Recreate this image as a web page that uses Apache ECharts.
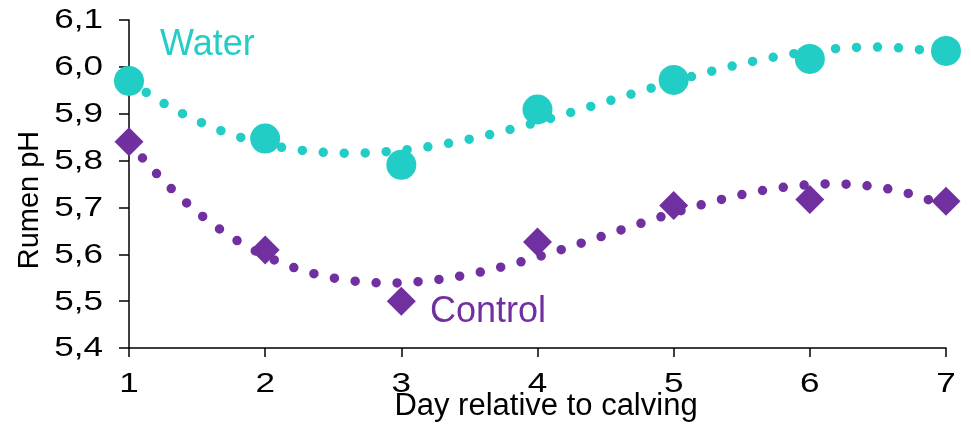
<!DOCTYPE html>
<html>
<head>
<meta charset="utf-8">
<script src="https://cdn.jsdelivr.net/npm/echarts@6/dist/echarts.min.js"></script>
<style>
  html, body { margin: 0; padding: 0; background: #fff; }
  #chart { width: 971px; height: 431px; }
</style>
</head>
<body>
<div id="chart"></div>
<script>
// Rumen pH by day relative to calving, two treatment groups
const days = [1, 2, 3, 4, 5, 6, 7];
const waterPH = [5.970, 5.847, 5.791, 5.909, 5.972, 6.017, 6.034];
const controlPH = [5.840, 5.609, 5.500, 5.626, 5.704, 5.717, 5.713];
const yTicks = [5.4, 5.5, 5.6, 5.7, 5.8, 5.9, 6.0, 6.1];
const xTicks = [1, 2, 3, 4, 5, 6, 7];

const TEAL = '#22CDC5';
const PURPLE = '#7030A0';
const FONT = '"Liberation Sans", Arial, sans-serif';
const TICK_FONT = '27px ' + FONT;
const TICK_STRETCH = 1.3;   // wide tick numerals

// Least-squares polynomial fit (order 3 trendline)
function polyFit(xs, ys, order) {
  const n = order + 1;
  const A = [];
  for (let i = 0; i < n; i++) A.push(new Array(n + 1).fill(0));
  for (let k = 0; k < xs.length; k++) {
    for (let i = 0; i < n; i++) {
      for (let j = 0; j < n; j++) A[i][j] += Math.pow(xs[k], i + j);
      A[i][n] += ys[k] * Math.pow(xs[k], i);
    }
  }
  for (let i = 0; i < n; i++) {
    let p = i;
    for (let r = i + 1; r < n; r++) if (Math.abs(A[r][i]) > Math.abs(A[p][i])) p = r;
    [A[i], A[p]] = [A[p], A[i]];
    for (let r = 0; r < n; r++) {
      if (r === i) continue;
      const f = A[r][i] / A[i][i];
      for (let c = i; c <= n; c++) A[r][c] -= f * A[i][c];
    }
  }
  return A.map((row, i) => row[n] / row[i]);
}
function trendPoints(xs, ys) {
  const c = polyFit(xs, ys, 3);
  const pts = [];
  const x0 = xs[0], x1 = xs[xs.length - 1];
  const steps = 300;
  for (let s = 0; s <= steps; s++) {
    const x = x0 + (x1 - x0) * s / steps;
    pts.push([x, c[0] + c[1] * x + c[2] * x * x + c[3] * x * x * x]);
  }
  return pts;
}

const chart = echarts.init(document.getElementById('chart'), null, { renderer: 'canvas' });

const dotted = (color) => ({
  color: color,
  width: 9.5,
  type: [0, 21],
  cap: 'round'
});

chart.setOption({
  animation: false,
  backgroundColor: '#fff',
  grid: { left: 129, right: 25, top: 20, bottom: 83, containLabel: false },
  xAxis: {
    type: 'value',
    min: xTicks[0], max: xTicks[xTicks.length - 1], interval: 1,
    axisLine: { lineStyle: { color: '#000', width: 1.5 } },
    axisTick: { show: true, length: 9, lineStyle: { color: '#000', width: 1.5 } },
    axisLabel: { show: false },
    splitLine: { show: false }
  },
  yAxis: {
    type: 'value',
    min: yTicks[0], max: yTicks[yTicks.length - 1], interval: 0.1,
    axisLine: { show: true, lineStyle: { color: '#000', width: 1.5 } },
    axisTick: { show: true, length: 10, lineStyle: { color: '#000', width: 1.5 } },
    axisLabel: { show: false },
    splitLine: { show: false }
  },
  series: [
    {
      name: 'Water trend', type: 'line', data: trendPoints(days, waterPH),
      showSymbol: false, symbol: 'none', lineStyle: dotted(TEAL), z: 3, silent: true
    },
    {
      name: 'Control trend', type: 'line', data: trendPoints(days, controlPH),
      showSymbol: false, symbol: 'none', lineStyle: dotted(PURPLE), z: 3, silent: true
    },
    {
      name: 'Water', type: 'scatter', data: days.map((d, i) => [d, waterPH[i]]),
      symbol: 'circle', symbolSize: 30, itemStyle: { color: TEAL, opacity: 1 }, z: 2
    },
    {
      name: 'Control', type: 'scatter', data: days.map((d, i) => [d, controlPH[i]]),
      symbol: 'diamond', symbolSize: [29, 29], itemStyle: { color: PURPLE, opacity: 1 }, z: 2
    }
  ]
});

// Tick numerals placed at the axis positions of each tick value
const fmt = (v) => v.toFixed(1).replace('.', ',');
const graphics = [];
yTicks.forEach((v) => {
  const p = chart.convertToPixel({ gridIndex: 0 }, [xTicks[0], v]);
  graphics.push({
    type: 'text', x: p[0] - 26, y: p[1] + 1, scaleX: TICK_STRETCH, silent: true,
    style: { text: fmt(v), font: TICK_FONT, fill: '#000', textAlign: 'right', textVerticalAlign: 'middle' }
  });
});
xTicks.forEach((v) => {
  const p = chart.convertToPixel({ gridIndex: 0 }, [v, yTicks[0]]);
  graphics.push({
    type: 'text', x: p[0], y: p[1] + 37, scaleX: TICK_STRETCH, silent: true,
    style: { text: String(v), font: TICK_FONT, fill: '#000', textAlign: 'center', textVerticalAlign: 'middle' }
  });
});
graphics.push(
  {
    type: 'text', x: 546, y: 406, silent: true,
    style: { text: 'Day relative to calving', font: '31px ' + FONT, fill: '#000', textAlign: 'center', textVerticalAlign: 'middle' }
  },
  {
    type: 'text', x: 30, y: 200, rotation: Math.PI / 2, silent: true,
    style: { text: 'Rumen pH', font: '29px ' + FONT, fill: '#000', textAlign: 'center', textVerticalAlign: 'middle' }
  },
  {
    type: 'text', x: 160, y: 45, silent: true,
    style: { text: 'Water', font: '36px ' + FONT, fill: TEAL, textVerticalAlign: 'middle' }
  },
  {
    type: 'text', x: 430, y: 312, silent: true,
    style: { text: 'Control', font: '36px ' + FONT, fill: PURPLE, textVerticalAlign: 'middle' }
  }
);
chart.setOption({ graphic: graphics });
</script>
</body>
</html>
